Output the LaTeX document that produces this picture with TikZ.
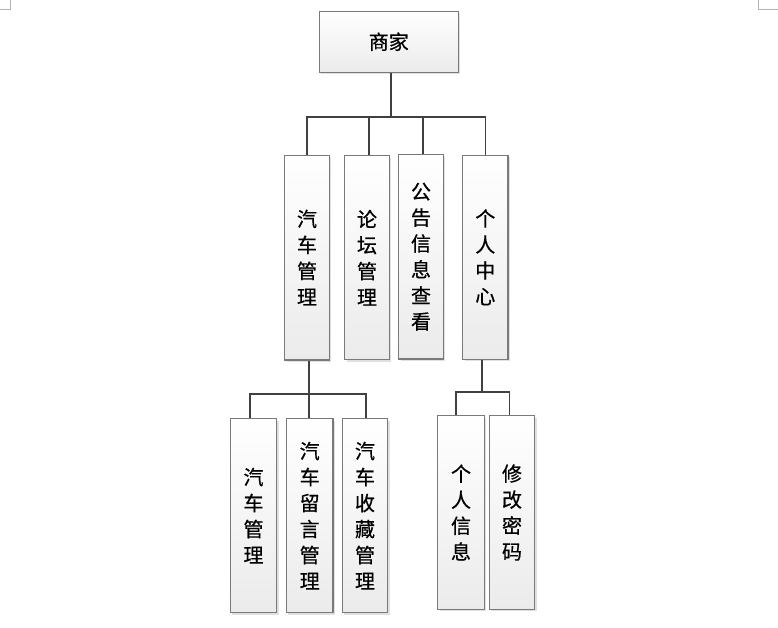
\documentclass[tikz,border=0pt]{standalone}
\usepackage{fontspec}
\newfontfamily\cjk[FakeBold=0.6]{Noto Sans CJK SC}
\usetikzlibrary{shadows}
\definecolor{boxline}{HTML}{7A7A7A}
\definecolor{conn}{HTML}{404040}
\definecolor{boxbot}{HTML}{EBEBEB}
\definecolor{markc}{HTML}{B4B4B4}
\tikzset{
  box/.style={draw=boxline, line width=1.2pt, top color=white, bottom color=boxbot,
    drop shadow={shadow xshift=2pt, shadow yshift=-2pt, fill=black, opacity=0.12},
    inner sep=0pt, align=center, font=\cjk\fontsize{20}{26}\selectfont, text=black},
  conn/.style={draw=conn, line width=1.6pt},
  cornermark/.style={draw=markc, line width=0.8pt}
}
\begin{document}
\begin{tikzpicture}[x=1pt,y=-1pt]
\useasboundingbox (0,0) rectangle (778,627);
\draw[cornermark] (10,0) -- (10,9) -- (0,9);
\draw[cornermark] (758,0) -- (758,9) -- (778,9);
% top
\node[box, minimum width=139pt, minimum height=61pt] (root) at (388.8,41.7) {商家};
% level 2
\node[box, minimum width=44.6pt, minimum height=204.7pt] (car) at (307,257.6) {汽\\车\\管\\理};
\node[box, minimum width=44.6pt, minimum height=204pt] (forum) at (367,257.8) {论\\坛\\管\\理};
\node[box, minimum width=44.6pt, minimum height=204.7pt] (notice) at (421,256.7) {公\\告\\信\\息\\查\\看};
\node[box, minimum width=45.3pt, minimum height=204pt] (center) at (485.3,257.3) {个\\人\\中\\心};
% level 3
\node[box, minimum width=46.4pt, minimum height=194pt] (c1) at (253.5,515.7) {汽\\车\\管\\理};
\node[box, minimum width=46.7pt, minimum height=194pt] (c2) at (309.7,515.7) {汽\\车\\留\\言\\管\\理};
\node[box, minimum width=45.4pt, minimum height=194pt] (c3) at (365,515.7) {汽\\车\\收\\藏\\管\\理};
\node[box, minimum width=46.6pt, minimum height=193.6pt] (p1) at (461,512.5) {个\\人\\信\\息};
\node[box, minimum width=45.4pt, minimum height=193.6pt] (p2) at (512,512.5) {修\\改\\密\\码};
% connectors
\coordinate (bus1) at (390.7,116.7);
\draw[conn] ([xshift=1.9pt]root.south) -- (bus1);
\draw[conn] (bus1) -| (car.north);
\draw[conn] (bus1) -| ([xshift=1.7pt]forum.north);
\draw[conn] (bus1) -| ([xshift=1.7pt]notice.north);
\draw[conn] (bus1) -| (center.north);
\coordinate (bus2) at (308.7,394);
\draw[conn] ([xshift=1.7pt]car.south) -- (bus2);
\draw[conn] (bus2) -| ([xshift=-3.5pt]c1.north);
\draw[conn] (bus2) -- (c2.north -| bus2);
\draw[conn] (bus2) -| ([xshift=0.7pt]c3.north);
\coordinate (bus3) at (481.7,391.7);
\draw[conn] ([xshift=-3.6pt]center.south) -- (bus3);
\draw[conn] (bus3) -| ([xshift=-5.3pt]p1.north);
\draw[conn] (bus3) -| ([xshift=-2.7pt]p2.north);
\end{tikzpicture}
\end{document}
